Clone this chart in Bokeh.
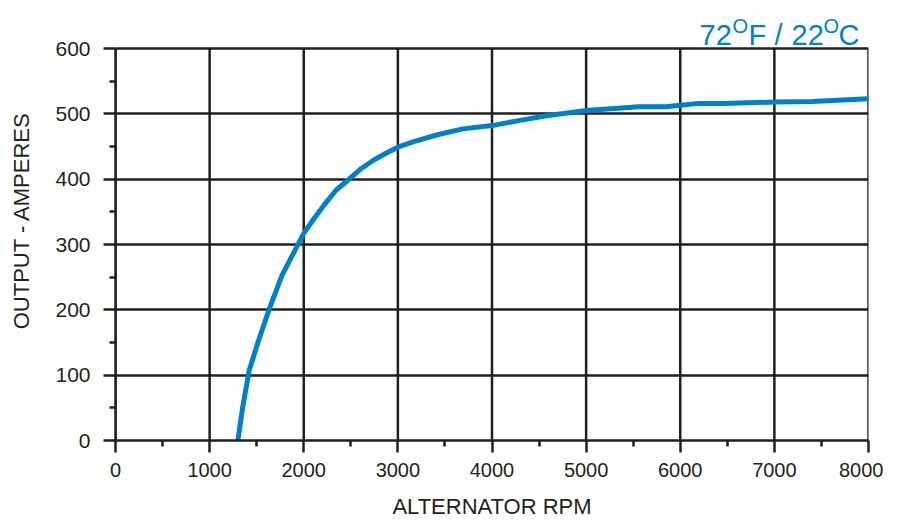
from bokeh.plotting import figure
from bokeh.models import Label, Range1d, FixedTicker
from bokeh.embed import file_html
from bokeh.resources import INLINE

rpm = [1300, 1350, 1420, 1520, 1630, 1770, 1960, 2000, 2106, 2230, 2343, 2490, 2609, 2740,
       2878, 3000, 3160, 3420, 3690, 4000, 4300, 4580, 5000, 5560, 5850, 6000, 6200, 6450,
       7000, 7400, 8000]
amps = [0, 50, 107, 153, 200, 253, 306, 317, 339, 363, 383, 401, 416, 429,
        440, 449, 457, 468, 477, 482, 490, 497, 505, 511, 511, 513, 516, 516,
        518, 519, 523]
x_ticks = [0, 1000, 2000, 3000, 4000, 5000, 6000, 7000, 8000]
x_minor = [500, 1500, 2500, 3500, 4500, 5500, 6500, 7500]
y_ticks = [0, 100, 200, 300, 400, 500, 600]
y_minor = [50, 150, 250, 350, 450, 550]
title_parts = ["72", "O", "F", "/", "22", "O", "C"]

INK = "#231f20"
BLUE = "#0080c6"
FONT = "Liberation Sans"

Y_MAX = 600
TOP_GAP = 48      # px of room above the 600 line for the heading
BOTTOM = 81
H = 521
frame_h = H - BOTTOM
y_top = Y_MAX * frame_h / (frame_h - TOP_GAP)

p = figure(width=883, height=H, output_backend="svg", toolbar_location=None, title=None,
           x_range=Range1d(0, 8000), y_range=Range1d(0, y_top),
           min_border_left=115, min_border_right=15, min_border_top=0, min_border_bottom=BOTTOM)
p.background_fill_color = "white"
p.border_fill_color = "white"
p.outline_line_color = None

# vertical grid lines (incl. right border) limited to the 0..600 band
p.segment(x0=x_ticks, y0=[0] * len(x_ticks), x1=x_ticks, y1=[Y_MAX] * len(x_ticks),
          line_color=INK, line_width=2.5)

p.line(rpm, amps, line_color=BLUE, line_width=5, line_join="round", line_cap="round")

for ax, maj, mnr in ((p.xaxis[0], x_ticks, x_minor), (p.yaxis[0], y_ticks, y_minor)):
    ax.ticker = FixedTicker(ticks=maj, minor_ticks=mnr)
    ax.axis_line_color = INK
    ax.axis_line_width = 2.5
    ax.major_tick_line_color = INK
    ax.major_tick_line_width = 2.5
    ax.major_tick_out = 12
    ax.major_tick_in = 0
    ax.minor_tick_line_color = INK
    ax.minor_tick_line_width = 2.5
    ax.minor_tick_out = 6
    ax.minor_tick_in = 0
    ax.major_label_text_font = FONT
    ax.major_label_text_color = INK
    ax.axis_label_text_font = FONT
    ax.axis_label_text_font_size = "22px"
    ax.axis_label_text_font_style = "normal"
    ax.axis_label_text_color = INK

p.yaxis.bounds = (0, Y_MAX)
p.xaxis.major_label_text_font_size = "20px"
p.yaxis.major_label_text_font_size = "21px"
p.xaxis.axis_label = "ALTERNATOR RPM"
p.yaxis.axis_label = "OUTPUT - AMPERES"
p.xaxis.major_label_standoff = 10
p.yaxis.major_label_standoff = 13
p.xaxis.axis_label_standoff = 14
p.yaxis.axis_label_standoff = 18

p.xgrid.visible = False
p.ygrid.ticker = FixedTicker(ticks=y_ticks)
p.ygrid.grid_line_color = INK
p.ygrid.grid_line_width = 2.5
p.ygrid.grid_line_alpha = 1.0

# heading "72°F / 22°C" with raised O's, above the 600 line (data units)
part_x = [6205, 6555, 6725, 7001, 7182, 7522, 7681]
part_y = [620, 635, 620, 620, 620, 635, 620]
part_fs = ["29px", "20px", "29px", "29px", "29px", "20px", "29px"]
for txt, px, py, fs in zip(title_parts, part_x, part_y, part_fs):
    p.add_layout(Label(x=px, y=py, text=txt,
                       text_font=FONT, text_font_size=fs, text_color=BLUE,
                       text_baseline="alphabetic", text_align="left"))

open("out.html", "w").write(file_html(p, INLINE))
